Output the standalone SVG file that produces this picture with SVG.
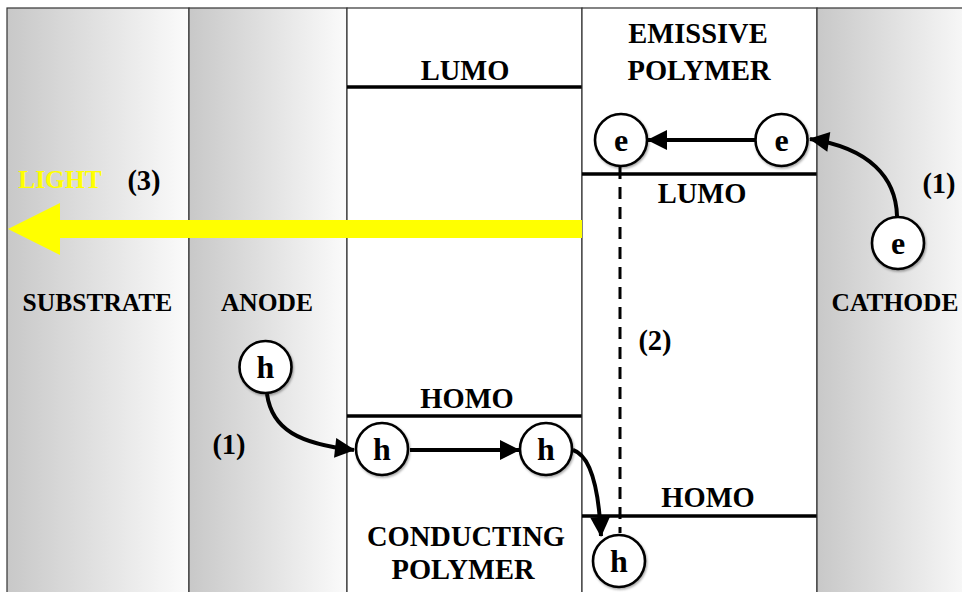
<svg xmlns="http://www.w3.org/2000/svg" width="962" height="592" viewBox="0 0 962 592">
<defs>
<linearGradient id="g" x1="0" y1="0" x2="1" y2="0">
<stop offset="0" stop-color="#c8c8c8"/>
<stop offset="1" stop-color="#fbfbfb"/>
</linearGradient>
<marker id="ah" viewBox="0 0 10 10" refX="9.5" refY="5" markerWidth="5.5" markerHeight="5" orient="auto" markerUnits="strokeWidth">
<path d="M0,0 L10,5 L0,10 z" fill="#000"/>
</marker>
<filter id="sh" x="-30%" y="-30%" width="160%" height="160%">
<feDropShadow dx="1" dy="1.5" stdDeviation="1.2" flood-color="#000" flood-opacity="0.35"/>
</filter>
</defs>
<style>
text{font-family:"Liberation Serif","Times New Roman",serif;font-weight:bold;font-size:28.5px;fill:#000;text-anchor:middle}
.side{font-size:25.5px}
.lvl{stroke:#000;stroke-width:3.5}
.col{stroke:#333;stroke-width:1.2}
.p circle{fill:#fff;stroke:#000;stroke-width:2.6;filter:url(#sh)}
.p text{font-size:32px}
.con{fill:none;stroke:#000;stroke-width:4;marker-end:url(#ah)}
</style>
<rect width="962" height="592" fill="#fff"/>
<g id="substrate">
<rect x="7" y="8" width="182" height="590" fill="url(#g)" class="col"/>
<text class="side" x="97.5" y="311">SUBSTRATE</text>
</g>
<g id="anode">
<rect x="189" y="8" width="158" height="590" fill="url(#g)" class="col"/>
<text class="side" x="267" y="311">ANODE</text>
</g>
<g id="conducting-polymer">
<rect x="347" y="8" width="235" height="590" fill="#fff" class="col"/>
<line x1="347" y1="87" x2="582" y2="87" class="lvl"/>
<text x="465" y="80">LUMO</text>
<line x1="347" y1="416" x2="582" y2="416" class="lvl"/>
<text x="467" y="408">HOMO</text>
<text x="466" y="546">CONDUCTING</text>
<text x="463" y="579">POLYMER</text>
</g>
<g id="emissive-polymer">
<rect x="582" y="8" width="235" height="590" fill="#fff" class="col"/>
<text x="698" y="43">EMISSIVE</text>
<text x="699" y="80">POLYMER</text>
<line x1="582" y1="174" x2="817" y2="174" class="lvl"/>
<text x="702" y="203">LUMO</text>
<line x1="582" y1="516" x2="817" y2="516" class="lvl"/>
<text x="708" y="507">HOMO</text>
</g>
<g id="cathode">
<rect x="817" y="8" width="160" height="590" fill="url(#g)" class="col"/>
<text class="side" x="895" y="311">CATHODE</text>
</g>
<g id="light">
<polygon points="582,220 60,220 60,203 8,229 60,255 60,238 582,238" fill="#ffff00"/>
<text class="side" x="60" y="188" style="fill:#ffff00">LIGHT</text>
<text x="144" y="190">(3)</text>
</g>
<g id="connectors">
<line x1="620" y1="167" x2="620" y2="533" stroke="#000" stroke-width="3" stroke-dasharray="12,8"/>
<line x1="755" y1="140" x2="648" y2="140" class="con"/>
<path d="M897,216 C896,178 870,148 810,139" class="con"/>
<path d="M267,394 C272,430 300,444 354,450" class="con"/>
<line x1="410" y1="450" x2="519" y2="450" class="con"/>
<path d="M573,450 C592,456 599,492 601,536" class="con"/>
</g>
<g id="labels">
<text x="939" y="193">(1)</text>
<text x="229" y="454">(1)</text>
<text x="655" y="350">(2)</text>
</g>
<g id="e1" class="p"><circle cx="621" cy="140" r="26"/><text x="621" y="151">e</text></g>
<g id="e2" class="p"><circle cx="781.5" cy="140" r="26"/><text x="781.5" y="151">e</text></g>
<g id="e3" class="p"><circle cx="898" cy="243" r="26"/><text x="898" y="254">e</text></g>
<g id="h1" class="p"><circle cx="265.5" cy="367" r="26"/><text x="265.5" y="378">h</text></g>
<g id="h2" class="p"><circle cx="382" cy="449" r="26"/><text x="382" y="460">h</text></g>
<g id="h3" class="p"><circle cx="546" cy="449" r="26"/><text x="546" y="460">h</text></g>
<g id="h4" class="p"><circle cx="619" cy="561" r="26"/><text x="619" y="572">h</text></g>
</svg>
